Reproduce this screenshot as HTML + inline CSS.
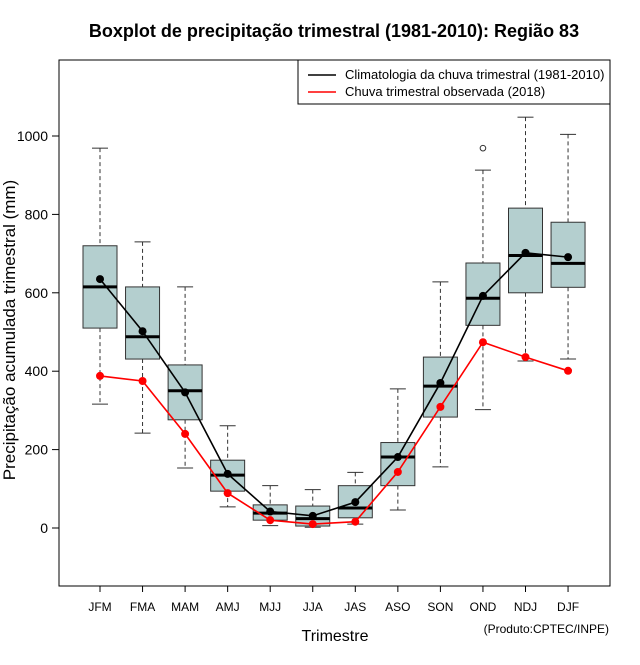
<!DOCTYPE html>
<html><head><meta charset="utf-8"><style>
body{margin:0;background:#fff}
svg text{font-family:"Liberation Sans",sans-serif}
</style></head><body>
<svg id="c" width="640" height="660" xmlns="http://www.w3.org/2000/svg">
<rect width="640" height="660" fill="#fff"/>
<text x="334" y="37" text-anchor="middle" font-size="18" font-weight="bold">Boxplot de precipitação trimestral (1981-2010): Região 83</text>
<rect x="59" y="60" width="551" height="526" fill="none" stroke="#000"/>
<g id="marks"></g>
<text x="335" y="641" text-anchor="middle" font-size="16">Trimestre</text>
<text transform="translate(15,330) rotate(-90)" text-anchor="middle" font-size="17">Precipitação acumulada trimestral (mm)</text>
<text x="609" y="633" text-anchor="end" font-size="12">(Produto:CPTEC/INPE)</text>
<g>
<rect x="298" y="60" width="312" height="44" fill="#fff" stroke="#000"/>
<line x1="308" y1="75" x2="336" y2="75" stroke="#000" stroke-width="1.5"/>
<text x="345" y="79" font-size="13">Climatologia da chuva trimestral (1981-2010)</text>
<line x1="308" y1="92" x2="336" y2="92" stroke="#f00" stroke-width="1.5"/>
<text x="345" y="96" font-size="13">Chuva trimestral observada (2018)</text>
</g>
</svg>
<script>
const categories=["JFM","FMA","MAM","AMJ","MJJ","JJA","JAS","ASO","SON","OND","NDJ","DJF"];
const whiskerHigh=[969,730,615,261,108,98,142,355,628,913,1048,1004];
const q3=[720,615,416,173,59,56,108,218,436,676,816,780];
const median=[615,488,350,135,38,24,51,181,362,586,695,675];
const q1=[510,431,276,94,20,5,26,108,283,517,600,614];
const whiskerLow=[316,242,153,54,6,2,10,46,156,302,426,431];
const outliers=[[9,969]];
const climMean=[635,502,346,138,42,31,66,181,370,592,702,691];
const observed=[388,375,240,89,20,10,16,143,309,474,436,401];
const yTicks=[0,200,400,600,800,1000];
const NS="http://www.w3.org/2000/svg";
const g=document.getElementById('marks');
const xS=i=>100+i*42.55;
const yS=v=>528-v*0.392;
function mk(t,a,p){const e=document.createElementNS(NS,t);for(const k in a)e.setAttribute(k,a[k]);(p||g).appendChild(e);return e;}
yTicks.forEach(v=>{
 const l=mk('line',{x1:52,x2:59,y1:yS(v),y2:yS(v),stroke:'#000'});
 
 
 const t=mk('text',{x:48,y:yS(v)+5,'text-anchor':'end','font-size':14});
 t.textContent=v;
 
 
});
const hw=17;
categories.forEach((c,i)=>{
 const x=xS(i);
 const t=mk('line',{x1:x,x2:x,y1:586,y2:592,stroke:'#000'});
 
 
 const lb=mk('text',{x:x,y:611,'text-anchor':'middle','font-size':12});
 lb.textContent=c;
 
 
 const bg=mk('g',{});
 
 
 mk('line',{x1:x,x2:x,y1:yS(whiskerHigh[i]),y2:yS(q3[i]),stroke:'#333','stroke-dasharray':'4,3'},bg);
 mk('line',{x1:x,x2:x,y1:yS(q1[i]),y2:yS(whiskerLow[i]),stroke:'#333','stroke-dasharray':'4,3'},bg);
 mk('line',{x1:x-8,x2:x+8,y1:yS(whiskerHigh[i]),y2:yS(whiskerHigh[i]),stroke:'#333'},bg);
 mk('line',{x1:x-8,x2:x+8,y1:yS(whiskerLow[i]),y2:yS(whiskerLow[i]),stroke:'#333'},bg);
 mk('rect',{x:x-hw,y:yS(q3[i]),width:2*hw,height:yS(q1[i])-yS(q3[i]),fill:'#b4cfcf',stroke:'#333'},bg);
 mk('line',{x1:x-hw,x2:x+hw,y1:yS(median[i]),y2:yS(median[i]),stroke:'#000','stroke-width':3},bg);
});
outliers.forEach(o=>{
 const e=mk('circle',{cx:xS(o[0]),cy:yS(o[1]),r:2.8,fill:'none',stroke:'#333'});
 
 
});
function series(vals,col,name){
 const p=mk('polyline',{points:vals.map((v,i)=>xS(i)+','+yS(v)).join(' '),fill:'none',stroke:col,'stroke-width':1.6});
 
 
 vals.forEach((v,i)=>{
  const d=mk('circle',{cx:xS(i),cy:yS(v),r:4,fill:col});
  
  
 });
}
series(observed,'#f00','observed');
series(climMean,'#000','climatology');
</script>
</body></html>
